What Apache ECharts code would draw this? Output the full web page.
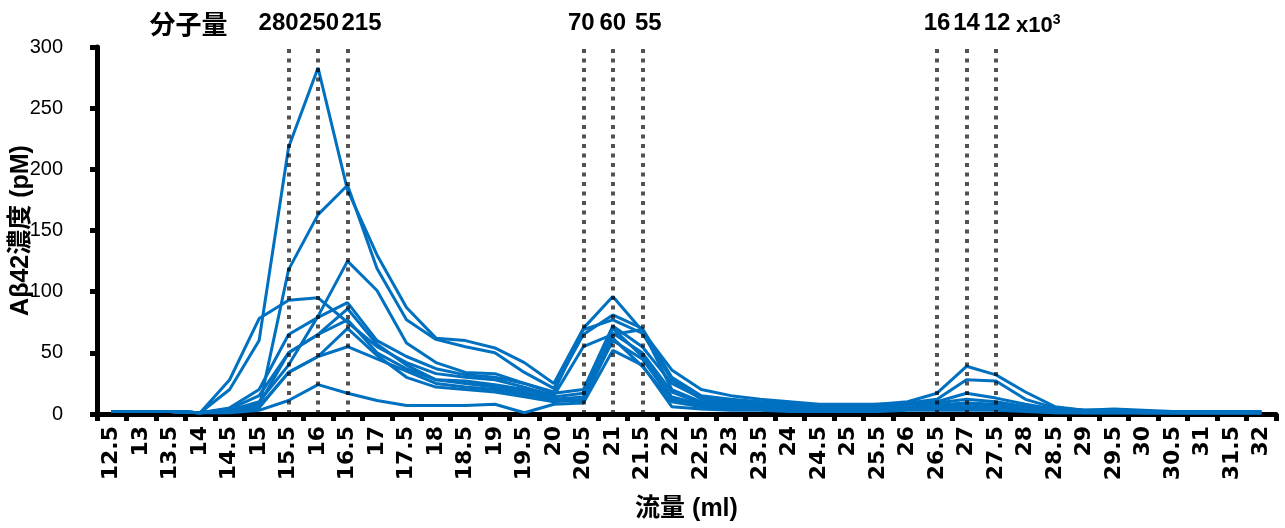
<!DOCTYPE html>
<html>
<head>
<meta charset="utf-8">
<script src="https://cdn.jsdelivr.net/npm/echarts@6/dist/echarts.min.js"></script>
<style>html,body{margin:0;padding:0;background:#fff;}#c{width:1285px;height:528px;}</style>
</head>
<body>
<div id="c"></div>
<script>
const categories = ['12.5','13','13.5','14','14.5','15','15.5','16','16.5','17','17.5','18','18.5','19','19.5','20','20.5','21','21.5','22','22.5','23','23.5','24','24.5','25','25.5','26','26.5','27','27.5','28','28.5','29','29.5','30','30.5','31','31.5','32'];

const s1  = [2,2,2,1,20,60,218,283,183,130,87,62,60,54,42,25,70,96,68,36,20,15,12,10,8,8,8,10,17,39,32,18,6,3,4,3,2,2,2,2];
const s2  = [2,2,2,1,2,5,118,163,187,119,77,61,55,50,34,21,65,81,70,30,15,12,10,9,7,7,8,9,12,28,27,12,5,3,3,2,2,2,2,2];
const s3  = [2,2,2,1,3,10,40,80,125,101,58,42,34,33,25,18,69,77,66,28,12,10,8,7,6,6,7,8,10,17,13,8,4,3,3,2,2,2,2,2];
const s4  = [2,2,2,1,28,78,93,95,75,55,42,33,30,28,22,15,55,65,69,20,10,8,7,6,5,5,6,7,7,9,7,5,3,2,2,2,1,1,1,1];
const s5  = [2,2,2,1,5,20,65,79,91,60,47,37,32,30,25,17,20,72,55,25,13,10,8,7,6,6,6,7,9,12,10,6,3,2,2,2,2,2,2,2];
const s6  = [2,2,2,1,3,8,50,65,86,57,40,28,27,24,20,14,17,70,47,14,8,6,5,5,4,4,4,5,5,7,5,4,2,2,2,1,1,1,1,1];
const s7  = [2,2,2,1,2,5,34,47,55,45,35,25,22,20,16,12,10,62,39,10,6,5,4,4,3,3,3,4,4,5,4,3,2,1,1,1,1,1,1,1];
const s8  = [2,2,2,1,1,3,11,24,17,11,7,7,7,8,1,8,9,52,40,6,4,3,3,2,2,2,2,3,3,3,3,2,1,1,1,1,1,1,1,1];
const s9  = [2,2,2,1,4,15,50,65,77,50,37,28,25,22,18,12,14,66,50,18,9,7,6,5,4,4,5,6,7,9,8,5,2,2,2,1,1,1,1,1];
const s10 = [2,2,2,1,3,6,34,47,70,48,30,22,20,18,14,10,12,60,45,12,7,5,4,4,3,3,3,4,4,5,4,3,1,1,1,1,1,1,1,1];

const mwPositions = ['15.5','16','16.5','20.5','21','21.5','26.5','27','27.5'];
const mwLabels = ['280','250','215','70','60','55','16','14','12'];
const mwLabelShift = [-10,1,14,-2,0,6,0,0,1];
const mwTitle = '分子量';
const mwUnit = 'x10';
const mwUnitSup = '3';
const yTitle = 'Aβ42濃度 (pM)';
const xTitle = '流量 (ml)';

const allSeries = [s1,s2,s3,s4,s5,s6,s7,s8,s9,s10];
const BLUE = '#0070C0';

const chart = echarts.init(document.getElementById('c'), null, {renderer: 'canvas'});

const series = allSeries.map((d, i) => ({
  type: 'line', name: 'S' + (i + 1), data: d,
  showSymbol: false, symbol: 'none', silent: true,
  lineStyle: {color: BLUE, width: 3}, itemStyle: {color: BLUE},
  emphasis: {disabled: true}, z: 2
}));

series.push({
  type: 'line', name: 'mw', data: [], silent: true, z: 5,
  markLine: {
    silent: true, symbol: 'none', animation: false,
    lineStyle: {color: 'rgba(0,0,0,0.68)', width: 4, type: [4, 5.5], cap: 'butt'},
    label: {show: false},
    data: mwPositions.map(p => [{coord: [p, 0]}, {coord: [p, 300]}])
  }
});

chart.setOption({
  animation: false,
  backgroundColor: '#fff',
  grid: {left: 97, right: 9, top: 47, bottom: 114, containLabel: false, outerBoundsMode: 'none'},
  xAxis: {
    type: 'category', data: categories, boundaryGap: true,
    name: xTitle, nameLocation: 'middle', nameGap: 83, nameMoveOverlap: false,
    nameTextStyle: {fontFamily: 'Liberation Sans, Noto Sans CJK JP', fontWeight: 'bold', fontSize: 25, color: '#000'},
    axisLine: {lineStyle: {color: '#000', width: 5}},
    axisTick: {show: true, alignWithLabel: false, length: 7, lineStyle: {color: '#000', width: 5}},
    axisLabel: {rotate: 90, interval: 0, margin: 12, fontFamily: 'DejaVu Sans', fontWeight: 'bold', fontSize: 22, color: '#000', hideOverlap: false},
    splitLine: {show: false}
  },
  yAxis: {
    type: 'value', min: 0, max: 300, interval: 50,
    name: yTitle, nameLocation: 'middle', nameGap: 63, nameMoveOverlap: false,
    nameTextStyle: {fontFamily: 'Liberation Sans, Noto Sans CJK JP', fontWeight: 'bold', fontSize: 25, color: '#000'},
    axisLine: {show: true, lineStyle: {color: '#000', width: 5}},
    axisTick: {show: true, length: 7, lineStyle: {color: '#000', width: 5}},
    axisLabel: {margin: 34, fontFamily: 'Liberation Sans', fontSize: 20, color: '#000'},
    splitLine: {show: false}
  },
  series: series
});

function placeLabels() {
  const texts = [];
  const yTop = chart.convertToPixel({yAxisIndex: 0}, 300);
  mwPositions.forEach((p, i) => {
    const x = chart.convertToPixel({xAxisIndex: 0}, p) + mwLabelShift[i];
    texts.push({
      type: 'text', x: x, y: yTop - 24, silent: true,
      style: {text: mwLabels[i], fill: '#000', font: 'bold 24px "Liberation Sans"', align: 'center', verticalAlign: 'middle'}
    });
  });
  const x0 = chart.convertToPixel({xAxisIndex: 0}, '15.5');
  texts.push({
    type: 'text', x: x0 - 100, y: yTop - 23, silent: true,
    style: {text: mwTitle, fill: '#000', font: 'bold 26px "Noto Sans CJK JP"', align: 'center', verticalAlign: 'middle'}
  });
  const x1 = chart.convertToPixel({xAxisIndex: 0}, '27.5');
  texts.push({
    type: 'text', x: x1 + 20, y: yTop - 22, silent: true,
    style: {
      text: '{a|' + mwUnit + '}{b|' + mwUnitSup + '}',
      rich: {
        a: {fill: '#000', fontFamily: 'Liberation Sans', fontWeight: 'bold', fontSize: 22, verticalAlign: 'bottom'},
        b: {fill: '#000', fontFamily: 'Liberation Sans', fontWeight: 'bold', fontSize: 14, verticalAlign: 'top', padding: [0,0,10,0]}
      },
      align: 'left', verticalAlign: 'middle'
    }
  });
  chart.setOption({graphic: texts});
}
placeLabels();
</script>
</body>
</html>
